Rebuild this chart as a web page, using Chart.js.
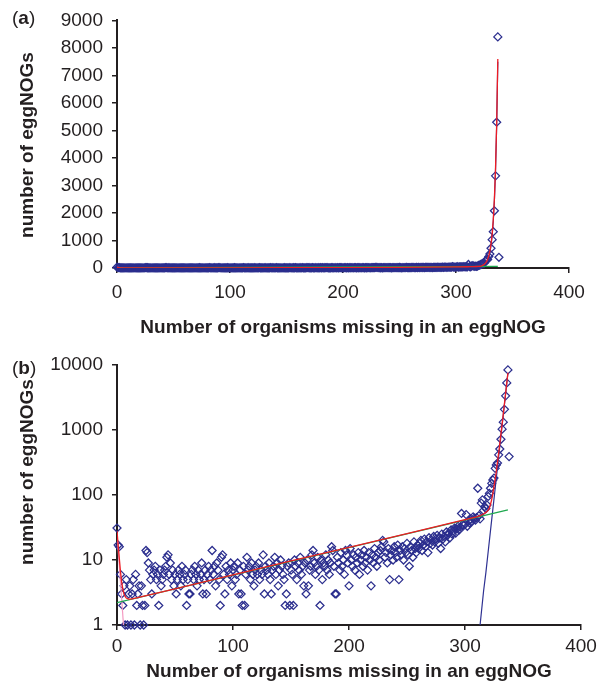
<!DOCTYPE html>
<html>
<head>
<meta charset="utf-8">
<title>eggNOG missing organisms</title>
<script src="https://cdn.jsdelivr.net/npm/chart.js@4.4.1/dist/chart.umd.min.js"></script>
<style>
  html, body { margin: 0; padding: 0; background: #fff; }
  body {
    width: 602px; height: 684px; position: relative; overflow: hidden;
    font-family: "Liberation Sans", Arial, Helvetica, sans-serif; color: #231f20;
  }
  .panel { position: absolute; left: 0; width: 602px; }
  #panel-a { top: 0; height: 340px; }
  #panel-b { top: 340px; height: 344px; }
  .tag { position: absolute; left: 12px; font-size: 19px; line-height: 22px; }
  .ytitle {
    position: absolute; font-size: 19px; font-weight: bold; white-space: nowrap;
    transform: translate(-50%, -50%) rotate(-90deg);
  }
</style>
</head>
<body>
<div class="panel" id="panel-a"><canvas id="chart-a"></canvas></div>
<div class="panel" id="panel-b"><canvas id="chart-b"></canvas></div>
<div class="tag" style="top:7px">(<b>a</b>)</div>
<div class="tag" style="top:357px">(<b>b</b>)</div>
<div class="ytitle" style="left:27px; top:145px">number of eggNOGs</div>
<div class="ytitle" style="left:27px; top:472px">number of eggNOGs</div>
<script>
(function () {
  "use strict";

  // number of eggNOGs for 0, 1, 2, ... missing organisms (x = index)
  var eggnogCounts = [
    31, 17, 16, 6, 3, 2, 4, 1, 5, 1,
    3, 4, 1, 3, 5, 1, 6, 2, 3, 4,
    1, 4, 2, 1, 2, 14, 13, 9, 7, 5,
    3, 6, 7, 8, 5, 6, 2, 7, 4, 5,
    6, 7, 8, 11, 12, 6, 9, 5, 7, 4,
    6, 3, 5, 7, 6, 4, 8, 5, 6, 7,
    2, 5, 3, 3, 6, 7, 5, 8, 6, 4,
    7, 5, 6, 9, 3, 5, 7, 3, 6, 8,
    5, 7, 14, 6, 8, 4, 9, 7, 5, 2,
    11, 12, 6, 3, 8, 5, 7, 6, 9, 4,
    7, 8, 5, 6, 9, 3, 7, 3, 2, 8,
    2, 6, 11, 7, 8, 5, 9, 6, 4, 7,
    8, 6, 9, 5, 7, 6, 12, 3, 8, 7,
    6, 9, 5, 3, 7, 8, 11, 6, 9, 4,
    7, 10, 8, 6, 5, 2, 3, 8, 9, 2,
    7, 6, 2, 10, 8, 5, 9, 7, 11, 6,
    8, 4, 9, 3, 10, 4, 7, 8, 12, 14,
    9, 6, 8, 11, 7, 2, 10, 5, 9, 8,
    12, 7, 10, 6, 9, 16, 14, 8, 3, 3,
    11, 9, 7, 13, 8, 10, 6, 14, 12, 9,
    4, 15, 10, 8, 12, 7, 11, 9, 13, 6,
    10, 12, 8, 14, 9, 11, 7, 13, 10, 4,
    12, 9, 15, 11, 8, 13, 10, 14, 16, 20,
    19, 11, 13, 9, 15, 5, 12, 14, 10, 16,
    13, 11, 17, 5, 14, 12, 16, 10, 15, 13,
    18, 12, 8, 16, 14, 11, 19, 15, 13, 17,
    15, 18, 20, 14, 17, 21, 16, 19, 13, 22,
    18, 20, 17, 23, 19, 21, 24, 18, 22, 15,
    25, 21, 23, 19, 27, 24, 26, 22, 29, 25,
    28, 31, 26, 30, 33, 29, 32, 52, 35, 34,
    36, 50, 33, 40, 37, 42, 39, 46, 44, 41,
    45, 127, 48, 43, 75, 84, 58, 66, 62, 70,
    95, 106, 127, 151, 170, 182, 257, 290, 310, 415,
    510, 720, 1030, 1320, 2080, 3350, 5300, 8400, 390
  ];

  // fitted curves
  var redFitX = [0, 1, 2, 3, 4, 5, 6, 7, 8, 10, 12, 14, 50, 100, 150, 200, 250, 300,
    310, 313, 316, 318, 320, 321, 322, 323, 324, 325, 326, 327, 328, 329, 330,
    331, 332, 333, 334, 335, 336, 337];
  var redFitY = [28, 17, 10.5, 6.6, 4.6, 3.6, 3.0, 2.75, 2.6, 2.5, 2.5, 2.55, 3.6, 5.9, 9.7, 15.6, 25.5, 41.7,
    46, 48, 51, 54, 58, 63, 72, 85, 105, 135, 175, 230, 320, 440, 620,
    870, 1230, 1760, 2530, 3640, 5250, 7600];
  var greenFitX = [0, 337];
  var greenFitY = [2.2, 59];
  var blueFitX = [313, 316, 318, 320, 322, 324, 326, 328, 329, 330, 331, 332, 333, 334, 335, 336, 337];
  var blueFitY = [1, 3.3, 6.4, 13.5, 28.5, 60, 126, 265, 385, 560, 810, 1175, 1700, 2470, 3580, 5190, 7500];
  var pinkFitX = [0, 5.6];
  var pinkFitY = [26, 1];

  var xTicks = [0, 100, 200, 300, 400];
  var linearTicks = [0, 1000, 2000, 3000, 4000, 5000, 6000, 7000, 8000, 9000];
  var logTicks = [1, 10, 100, 1000, 10000];

  var INK = "#231f20";
  var FONT = '"Liberation Sans", Arial, Helvetica, sans-serif';

  Chart.defaults.font.family = FONT;
  Chart.defaults.font.size = 19;
  Chart.defaults.color = INK;

  function pairs(xs, ys) {
    return xs.map(function (x, i) { return { x: x, y: ys[i] }; });
  }

  function countPoints() {
    return eggnogCounts.map(function (c, i) { return { x: i, y: c }; });
  }

  function fitLine(xs, ys, color, width) {
    return {
      data: pairs(xs, ys),
      showLine: true,
      borderColor: color,
      borderWidth: width,
      pointRadius: 0,
      pointHoverRadius: 0,
      tension: 0,
      fill: false
    };
  }

  function datasets() {
    return [
      fitLine(redFitX, redFitY, "#ed1c24", 1.3),
      fitLine(greenFitX, greenFitY, "#1fa84f", 1.3),
      fitLine(blueFitX, blueFitY, "#2e3192", 1.2),
      fitLine(pinkFitX, pinkFitY, "#f49ac1", 1.2),
      {
        data: countPoints(),
        pointStyle: "rectRot",
        pointRadius: 4,
        pointBorderWidth: 1.25,
        borderColor: "#2b2e8e",
        backgroundColor: "rgba(0,0,0,0)",
        showLine: false,
        clip: false
      }
    ];
  }

  function xAxis(height, tickLen, pad) {
    return {
      type: "linear",
      min: 0,
      max: 400,
      afterBuildTicks: function (scale) {
        scale.ticks = xTicks.map(function (v) { return { value: v }; });
      },
      ticks: { padding: pad, color: INK, callback: function (v) { return String(v); } },
      grid: { drawOnChartArea: false, drawTicks: true, tickLength: tickLen, color: INK, lineWidth: 1.5 },
      border: { color: INK, width: 2 },
      title: {
        display: true,
        text: "Number of organisms missing in an eggNOG",
        color: INK,
        font: { size: 19, weight: "bold" },
        padding: { top: 0, bottom: 1 }
      },
      afterFit: function (scale) { scale.height = height; }
    };
  }

  function yAxis(type, min, max, tickValues) {
    return {
      type: type,
      min: min,
      max: max,
      afterBuildTicks: function (scale) {
        scale.ticks = tickValues.map(function (v) { return { value: v }; });
      },
      ticks: { padding: 9, color: INK, callback: function (v) { return String(v); } },
      grid: { drawOnChartArea: false, drawTicks: true, tickLength: 5, color: INK, lineWidth: 1.5 },
      border: { color: INK, width: 2 },
      afterFit: function (scale) { scale.width = 117; }
    };
  }

  function makeChart(id, yScale, xScale, padding) {
    return new Chart(document.getElementById(id), {
      type: "scatter",
      data: { datasets: datasets() },
      options: {
        responsive: true,
        maintainAspectRatio: false,
        animation: false,
        layout: { padding: padding },
        plugins: { legend: { display: false }, tooltip: { enabled: false } },
        scales: { x: xScale, y: yScale }
      }
    });
  }

  makeChart("chart-a",
    yAxis("linear", 0, 9000, linearTicks),
    xAxis(72, 5, 8),
    { left: 0, right: 33, top: 19, bottom: 0 });

  makeChart("chart-b",
    yAxis("logarithmic", 1, 10000, logTicks),
    xAxis(59, 5, 5),
    { left: 0, right: 21, top: 25, bottom: 0 });
})();
</script>
</body>
</html>
